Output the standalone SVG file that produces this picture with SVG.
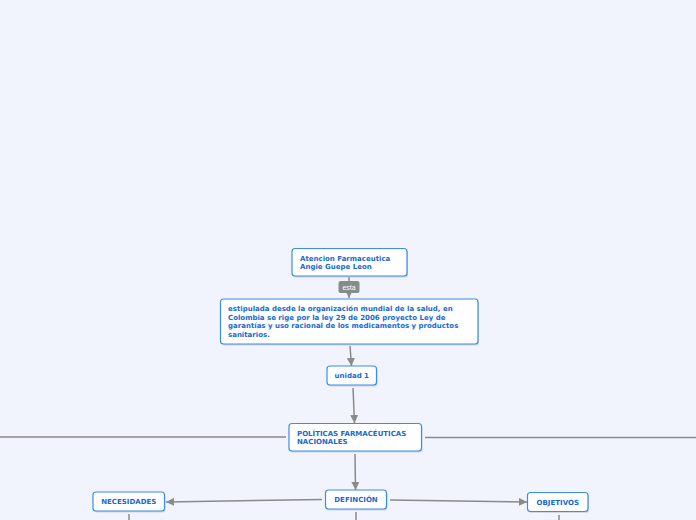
<svg xmlns="http://www.w3.org/2000/svg" width="696" height="520" viewBox="0 0 696 520">
<defs>
<marker id="ah" viewBox="0 0 10 10" refX="10" refY="5" markerWidth="8" markerHeight="8" orient="auto" markerUnits="userSpaceOnUse">
<path d="M0,0 L10,5 L0,10 z" fill="#8a8a8a"/>
</marker>
</defs>
<style>
.box{fill:#ffffff;stroke:#3b8ee4;stroke-width:1.2}
.shd{fill:#b8c2d3;opacity:0.6}
.t{font-family:Verdana,"DejaVu Sans",sans-serif;font-weight:bold;font-size:7px;fill:#1769cf}
.c{fill:none;stroke:#8a8a8a;stroke-width:1.5}
.lbl{fill:#8a8a8a}
.lt{font-family:"Liberation Sans",Arial,sans-serif;font-size:7px;fill:#ffffff}
</style>
<rect width="696" height="520" fill="#f1f4fd"/>
<g id="connectors">
<line class="c" x1="349" y1="277" x2="349" y2="298" marker-end="url(#ah)"/>
<line class="c" x1="350" y1="346" x2="351.5" y2="366" marker-end="url(#ah)"/>
<line class="c" x1="353" y1="388" x2="354.5" y2="423" marker-end="url(#ah)"/>
<line class="c" x1="355" y1="454" x2="355.5" y2="490" marker-end="url(#ah)"/>
<line class="c" x1="322" y1="499.5" x2="166" y2="502" marker-end="url(#ah)"/>
<line class="c" x1="390" y1="500" x2="527" y2="502" marker-end="url(#ah)"/>
<path class="c" d="M0,437 H286"/>
<path class="c" d="M425,437.5 H696"/>
<line class="c" x1="129" y1="514" x2="129" y2="520"/>
<line class="c" x1="356" y1="512" x2="356" y2="520"/>
<line class="c" x1="559" y1="515" x2="559" y2="520"/>
<g id="label-esta">
<rect class="lbl" x="338.5" y="281" width="21" height="12" rx="2"/>
<text class="lt" x="349" y="290" text-anchor="middle">esta</text>
</g>
</g>
<g id="n-atencion">
<rect class="shd" x="293" y="250" width="115" height="27.5" rx="3"/>
<rect class="box" x="292" y="248.5" width="115" height="27.5" rx="3"/>
<text class="t" x="300" y="261">Atencion Farmaceutica</text>
<text class="t" x="300" y="269">Angie Guepe Leon</text>
</g>
<g id="n-estipulada">
<rect class="shd" x="221.5" y="300.5" width="257.5" height="45" rx="3"/>
<rect class="box" x="220.5" y="299" width="257.5" height="45" rx="3"/>
<text class="t" x="228" y="311">estipulada desde la organización mundial de la salud, en</text>
<text class="t" x="228" y="319.5">Colombia se rige por la ley 29 de 2006 proyecto Ley de</text>
<text class="t" x="228" y="328">garantías y uso racional de los medicamentos y productos</text>
<text class="t" x="228" y="336.5">sanitarios.</text>
</g>
<g id="n-unidad">
<rect class="shd" x="328" y="367.5" width="49.5" height="19" rx="3"/>
<rect class="box" x="327" y="366" width="49.5" height="19" rx="3"/>
<text class="t" x="351.75" y="378" text-anchor="middle">unidad 1</text>
</g>
<g id="n-politicas">
<rect class="shd" x="290" y="425" width="132.5" height="27.5" rx="3"/>
<rect class="box" x="289" y="423.5" width="132.5" height="27.5" rx="3"/>
<text class="t" x="297" y="436">POLÍTICAS FARMACÉUTICAS</text>
<text class="t" x="297" y="444">NACIONALES</text>
</g>
<g id="n-definicion">
<rect class="shd" x="326.5" y="491.5" width="61" height="19" rx="3"/>
<rect class="box" x="325.5" y="490" width="61" height="19" rx="3"/>
<text class="t" x="356" y="502" text-anchor="middle">DEFINCIÓN</text>
</g>
<g id="n-necesidades">
<rect class="shd" x="94" y="493.5" width="71.5" height="19" rx="3"/>
<rect class="box" x="93" y="492" width="71.5" height="19" rx="3"/>
<text class="t" x="128.75" y="504" text-anchor="middle">NECESIDADES</text>
</g>
<g id="n-objetivos">
<rect class="shd" x="528.5" y="494" width="60.5" height="19" rx="3"/>
<rect class="box" x="527.5" y="492.5" width="60.5" height="19" rx="3"/>
<text class="t" x="557.75" y="505" text-anchor="middle">OBJETIVOS</text>
</g>
</svg>
